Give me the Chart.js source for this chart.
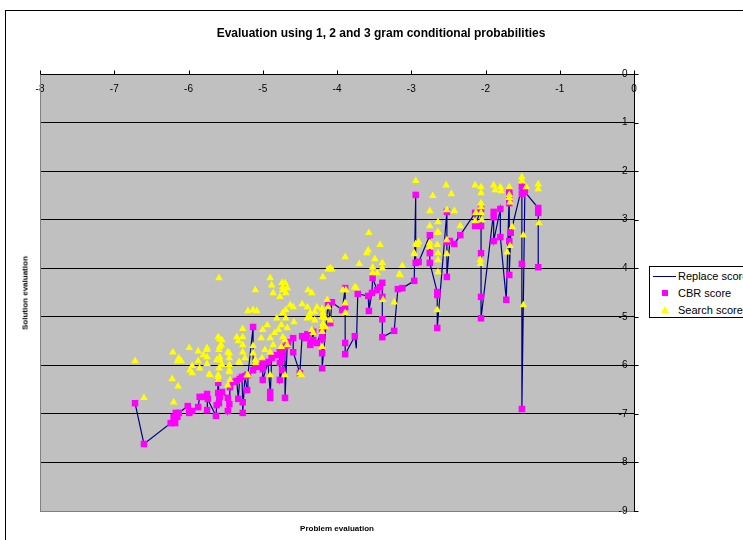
<!DOCTYPE html>
<html>
<head>
<meta charset="utf-8">
<script src="https://cdn.jsdelivr.net/npm/chart.js@4/dist/chart.umd.min.js"></script>
<style>
  html, body { margin: 0; padding: 0; width: 743px; height: 540px; overflow: hidden; background: #fff; }
  body { position: relative; font-family: "Liberation Sans", Arial, sans-serif; }
  #frame { position: absolute; left: 5px; top: 10px; width: 800px; height: 600px; border: 1px solid #000; box-sizing: border-box; }
  #c { position: absolute; left: 0; top: 0; }
  #title { position: absolute; left: 181px; width: 400px; top: 25px; text-align: center; font-weight: bold; font-size: 12px; line-height: 16px; white-space: nowrap; }
  #ytitle { position: absolute; left: 25px; top: 293px; transform: translate(-50%, -50%) rotate(-90deg); font-weight: bold; font-size: 8px; white-space: nowrap; }
  #xtitle { position: absolute; left: 337px; top: 528px; transform: translate(-50%, -50%); font-weight: bold; font-size: 8px; white-space: nowrap; }
  #legend { position: absolute; left: 649px; top: 266px; width: 120px; height: 52px; border: 1px solid #000; box-sizing: border-box; background: #fff; font-size: 11px; }
  .row { position: absolute; left: 0; height: 14px; line-height: 14px; white-space: nowrap; }
  .row span.t { position: absolute; left: 28px; top: 0; }
  .ln { position: absolute; left: 3px; top: 7px; width: 23px; height: 1px; background: #000080; }
  .sq { position: absolute; left: 12px; top: 4px; width: 6px; height: 6px; background: #ff00ff; }
  .tri { position: absolute; left: 11px; top: 3px; width: 0; height: 0; border-left: 4px solid transparent; border-right: 4px solid transparent; border-bottom: 7px solid #ffff00; }
</style>
</head>
<body>
<div id="frame"></div>
<canvas id="c" width="743" height="540"></canvas>
<div id="title">Evaluation using 1, 2 and 3 gram conditional probabilities</div>
<div id="ytitle">Solution evaluation</div>
<div id="xtitle">Problem evaluation</div>
<div id="legend">
  <div class="row" style="top:2px"><div class="ln"></div><span class="t">Replace score</span></div>
  <div class="row" style="top:19px"><div class="sq"></div><span class="t">CBR score</span></div>
  <div class="row" style="top:36px"><div class="tri"></div><span class="t">Search score</span></div>
</div>
<script>
// ---- data ----
const seriesNames = ["Replace score", "CBR score", "Search score"];
const xTicks = [-8, -7, -6, -5, -4, -3, -2, -1, 0];
const yTicks = [0, -1, -2, -3, -4, -5, -6, -7, -8, -9];

const cbrX = [-6.72,-6.60,-6.24,-6.18,-6.20,-6.15,-6.13,-6.17,-6.01,-5.99,-5.95,-5.87,-5.85,-5.79,-5.75,-5.74,-5.75,-5.63,-5.62,-5.59,-5.60,-5.55,-5.47,-5.45,-5.47,-5.44,-5.33,-5.35,-5.31,-5.27,-5.27,-5.24,-5.20,-5.13,-5.13,-5.09,-5.58,-5.60,-5.40,-5.28,-5.21,-5.04,-5.00,-4.93,-4.88,-4.81,-4.77,-4.73,-4.70,-4.67,-4.66,-4.59,-4.59,-4.77,-4.74,-4.90,-4.90,-5.00,-5.00,-4.77,-4.70,-4.73,-4.47,-4.42,-4.40,-4.36,-4.32,-4.27,-4.20,-4.20,-4.20,-4.20,-4.50,-4.32,-4.20,-4.09,-4.12,-4.07,-3.93,-3.89,-3.89,-3.89,-3.89,-3.76,-3.72,-3.58,-3.57,-3.53,-3.46,-3.42,-3.52,-3.39,-3.39,-3.39,-3.39,-3.23,-3.18,-3.12,-2.96,-2.94,-2.90,-2.94,-2.75,-2.75,-2.75,-2.65,-2.65,-2.65,-2.52,-2.52,-2.52,-2.48,-2.42,-2.34,-2.14,-2.14,-2.06,-2.06,-2.06,-2.06,-2.06,-1.89,-1.89,-1.89,-1.80,-1.80,-1.72,-1.68,-1.68,-1.68,-1.68,-1.68,-1.66,-1.51,-1.51,-1.51,-1.51,-1.47,-1.29,-1.29,-1.29];
const cbrY = [-6.78,-7.62,-7.19,-7.19,-7.06,-7.06,-6.98,-6.98,-6.84,-6.98,-6.94,-6.86,-6.65,-6.65,-6.59,-6.69,-6.92,-7.04,-6.82,-6.78,-6.57,-6.55,-6.67,-6.80,-6.94,-6.45,-6.69,-6.32,-6.28,-6.76,-6.98,-6.22,-6.20,-5.21,-6.10,-6.03,-6.65,-6.36,-6.34,-6.24,-6.51,-6.03,-5.95,-5.93,-5.85,-5.79,-5.73,-5.68,-5.62,-5.58,-5.52,-5.44,-5.73,-5.95,-6.10,-6.55,-6.67,-6.30,-6.08,-6.30,-6.67,-5.83,-5.40,-5.44,-5.36,-5.58,-5.48,-5.54,-5.38,-5.27,-5.75,-6.06,-6.16,-5.31,-5.46,-5.13,-4.72,-4.70,-4.86,-4.80,-4.41,-5.54,-5.77,-5.40,-4.53,-4.57,-4.88,-4.51,-4.45,-4.39,-4.20,-4.30,-4.59,-5.05,-5.42,-5.29,-4.43,-4.41,-4.26,-3.89,-3.87,-2.49,-3.32,-3.69,-3.89,-4.49,-5.23,-4.55,-2.84,-3.46,-4.18,-3.44,-3.50,-3.32,-2.86,-3.13,-3.13,-2.78,-3.69,-4.59,-5.03,-2.84,-2.95,-3.44,-2.78,-3.36,-4.65,-2.43,-2.49,-2.66,-3.44,-4.14,-3.27,-2.33,-2.47,-3.91,-6.90,-2.43,-2.76,-2.86,-3.98];

// extra vertices of the Replace score line that carry no CBR marker
const replaceExtraX = [-3.74];
const replaceExtraY = [-5.65];

const searchX = [-6.72,-6.60,-6.21,-6.13,-6.10,-6.15,-5.99,-5.87,-5.80,-5.75,-5.75,-6.22,-6.14,-6.20,-5.95,-5.98,-5.95,-5.85,-5.87,-5.75,-5.72,-5.60,-5.58,-5.56,-5.59,-5.62,-5.58,-5.60,-5.59,-5.55,-5.47,-5.45,-5.45,-5.45,-5.35,-5.33,-5.27,-5.27,-5.27,-5.27,-5.24,-5.31,-5.20,-5.13,-5.08,-5.13,-5.13,-5.21,-5.44,-5.47,-5.60,-5.10,-5.59,-5.10,-4.90,-4.88,-4.86,-4.77,-4.73,-4.70,-4.67,-4.69,-5.55,-5.58,-5.58,-5.75,-5.71,-5.60,-5.45,-5.45,-5.32,-5.10,-5.02,-5.00,-4.94,-4.90,-4.86,-4.90,-5.01,-4.97,-4.84,-4.79,-4.75,-4.81,-4.73,-4.69,-4.69,-4.67,-4.73,-4.70,-4.75,-4.67,-4.90,-4.70,-5.20,-4.59,-4.58,-4.47,-4.40,-4.39,-4.34,-4.36,-4.30,-4.30,-4.27,-4.20,-4.20,-4.19,-4.13,-4.12,-4.19,-4.12,-4.32,-4.20,-4.16,-4.20,-4.50,-4.40,-3.57,-3.42,-3.58,-3.60,-3.89,-3.70,-3.49,-3.39,-3.39,-3.52,-3.52,-3.46,-4.07,-3.92,-3.88,-3.74,-3.12,-3.16,-2.96,-2.92,-2.90,-2.75,-2.65,-2.65,-2.75,-2.64,-2.65,-3.89,-3.89,-3.38,-3.23,-4.19,-4.16,-4.09,-4.20,-4.09,-4.63,-4.74,-4.73,-4.34,-4.48,-3.76,-4.36,-2.94,-2.71,-2.53,-2.46,-2.75,-2.52,-2.42,-2.14,-2.06,-2.06,-1.89,-1.87,-1.80,-1.79,-1.68,-1.68,-1.68,-1.67,-1.51,-1.51,-1.45,-1.29,-1.29,-2.06,-2.06,-2.06,-2.13,-2.05,-2.14,-2.34,-2.64,-2.64,-2.75,-2.94,-2.96,-2.64,-2.64,-2.52,-2.52,-2.07,-2.07,-1.64,-1.67,-1.71,-1.49,-1.49,-1.28,-3.15];
const searchY = [-5.91,-6.67,-5.73,-5.85,-5.91,-5.91,-5.64,-5.71,-5.79,-5.64,-5.83,-6.28,-6.43,-6.76,-6.01,-6.10,-6.16,-6.06,-5.91,-5.97,-6.18,-5.42,-5.46,-5.58,-5.68,-5.89,-5.89,-6.20,-6.06,-5.99,-5.73,-5.85,-5.99,-6.10,-5.42,-5.50,-5.25,-5.42,-5.58,-5.73,-5.85,-5.95,-4.88,-4.86,-4.88,-5.60,-5.75,-6.20,-6.30,-6.41,-6.30,-5.89,-4.20,-4.45,-4.20,-4.35,-4.51,-4.59,-4.39,-4.30,-4.41,-4.51,-5.48,-5.62,-5.83,-5.68,-6.20,-6.24,-5.75,-6.14,-5.93,-5.95,-5.44,-5.27,-5.17,-5.44,-5.58,-5.73,-5.85,-5.68,-5.33,-5.27,-5.17,-5.03,-4.92,-4.86,-5.03,-5.23,-5.42,-5.48,-5.62,-5.58,-6.20,-6.20,-6.20,-4.80,-5.11,-4.74,-4.80,-4.45,-4.51,-4.92,-4.90,-5.07,-4.80,-4.84,-5.01,-5.15,-4.65,-4.80,-4.18,-4.02,-5.33,-5.31,-5.21,-5.62,-6.16,-5.03,-3.27,-3.52,-3.63,-3.69,-3.77,-3.91,-3.81,-3.89,-4.00,-3.98,-4.10,-4.10,-4.02,-4.45,-4.45,-4.41,-3.95,-4.12,-3.69,-3.52,-3.46,-3.13,-3.27,-3.52,-3.48,-4.08,-4.86,-4.72,-4.92,-4.65,-4.70,-4.92,-5.03,-5.07,-5.21,-4.00,-4.76,-4.30,-4.45,-5.27,-6.20,-4.39,-5.01,-2.20,-2.51,-2.29,-2.47,-2.82,-2.80,-2.82,-2.29,-2.33,-2.45,-2.29,-2.39,-2.33,-2.41,-2.33,-2.49,-2.55,-2.64,-2.12,-2.20,-2.33,-2.27,-2.37,-2.66,-2.74,-2.86,-2.86,-3.01,-3.03,-3.13,-3.05,-3.25,-3.56,-3.50,-3.71,-3.69,-3.83,-3.42,-3.71,-3.83,-3.91,-3.15,-3.54,-3.67,-3.32,-4.76,-3.07,-4.14];

// ---- build datasets from the arrays ----
const cbrPts = cbrX.map((x, i) => ({ x, y: cbrY[i] }));
const searchPts = searchX.map((x, i) => ({ x, y: searchY[i] }));
const replacePts = cbrPts.concat(replaceExtraX.map((x, i) => ({ x, y: replaceExtraY[i] })))
  .sort((a, b) => (a.x - b.x) || (b.y - a.y));

const tickFont = { family: "'Liberation Sans', Arial, sans-serif", size: 10 };

const plotDecor = {
  id: 'plotDecor',
  beforeDraw(chart) {
    const a = chart.chartArea, c = chart.ctx;
    c.save();
    c.fillStyle = '#c0c0c0';
    c.fillRect(a.left, a.top, a.right - a.left, a.bottom - a.top);
    c.restore();
  },
  afterDraw(chart) {
    const a = chart.chartArea, c = chart.ctx;
    const xs = chart.scales.x, ys = chart.scales.y;
    c.save();
    c.strokeStyle = '#808080';
    c.lineWidth = 1;
    c.beginPath();
    c.moveTo(Math.round(a.left) + 0.5, a.top);
    c.lineTo(Math.round(a.left) + 0.5, Math.round(a.bottom) + 0.5);
    c.lineTo(a.right, Math.round(a.bottom) + 0.5);
    c.stroke();
    // outward tick marks
    c.strokeStyle = '#000';
    c.beginPath();
    const y0 = Math.round(ys.getPixelForValue(0)) + 0.5;
    xTicks.forEach(v => {
      const px = Math.round(xs.getPixelForValue(v)) + 0.5;
      c.moveTo(px, y0); c.lineTo(px, y0 - 4);
    });
    const x0 = Math.round(xs.getPixelForValue(0)) + 0.5;
    yTicks.forEach(v => {
      const py = Math.round(ys.getPixelForValue(v)) + 0.5;
      c.moveTo(x0, py); c.lineTo(x0 + 4, py);
    });
    c.stroke();
    // y tick labels, just left of the y axis (which crosses at x = 0)
    c.fillStyle = '#000';
    c.font = "10px 'Liberation Sans', Arial, sans-serif";
    c.textAlign = 'right';
    c.textBaseline = 'middle';
    yTicks.forEach(v => {
      c.fillText(String(v), x0 - 7, ys.getPixelForValue(v));
    });
    c.restore();
  }
};

new Chart(document.getElementById('c'), {
  type: 'scatter',
  data: {
    datasets: [
      { label: seriesNames[2], data: searchPts, order: 1, showLine: false,
        pointStyle: 'triangle', pointRadius: 4.4, pointBackgroundColor: '#ffff00', pointBorderColor: '#ffff00', pointBorderWidth: 0 },
      { label: seriesNames[1], data: cbrPts, order: 2, showLine: false,
        pointStyle: 'rect', pointRadius: 4.6, pointBackgroundColor: '#ff00ff', pointBorderColor: '#ff00ff', pointBorderWidth: 0 },
      { label: seriesNames[0], data: replacePts, order: 3, showLine: true,
        borderColor: '#000080', borderWidth: 1.2, pointRadius: 0, fill: false, tension: 0 }
    ]
  },
  options: {
    responsive: false,
    animation: false,
    devicePixelRatio: 1,
    layout: { padding: { left: 40, top: 74, right: 109, bottom: 29 } },
    plugins: { legend: { display: false }, title: { display: false }, tooltip: { enabled: false } },
    scales: {
      x: {
        type: 'linear', min: -8, max: 0,
        position: { y: 0 },
        afterBuildTicks: s => { s.ticks = xTicks.map(v => ({ value: v })); },
        ticks: { font: tickFont, color: '#000', padding: 9, maxRotation: 0, autoSkip: false },
        grid: { display: false, drawTicks: false },
        border: { display: true, color: '#000', width: 1 }
      },
      y: {
        type: 'linear', min: -9, max: 0,
        position: { x: 0 },
        afterBuildTicks: s => { s.ticks = yTicks.map(v => ({ value: v })); },
        ticks: { display: false },
        grid: { drawTicks: false, color: c => (c.tick && c.tick.value === -9) ? '#808080' : '#000', lineWidth: 1 },
        border: { display: true, color: '#000', width: 1 }
      }
    }
  },
  plugins: [plotDecor]
});
</script>
</body>
</html>
